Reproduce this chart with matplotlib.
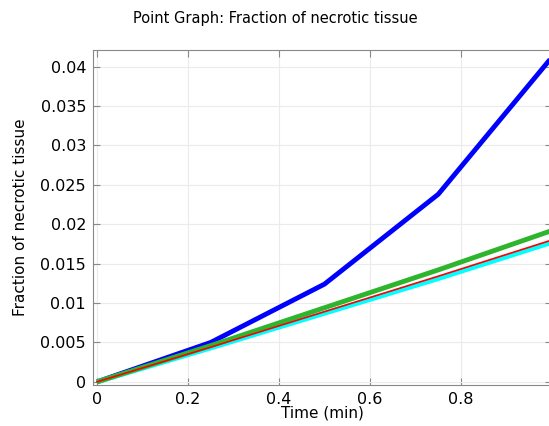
import matplotlib.pyplot as plt
import numpy as np

# Data
# ---------------------------
time = [0.0, 0.25, 0.5, 0.75, 1.0]
blue = [0.0, 0.0050, 0.0124, 0.0238, 0.0412]
green = [0.0, 0.0046, 0.0094, 0.0142, 0.0192]
red = [0.0, 0.0044, 0.0089, 0.0134, 0.0180]
cyan = [0.0, 0.0043, 0.0087, 0.0131, 0.0177]

xticks = [0, 0.2, 0.4, 0.6, 0.8, 1]
xticklabels = ['0', '0.2', '0.4', '0.6', '0.8', '1']
yticks = [0, 0.005, 0.01, 0.015, 0.02, 0.025, 0.03, 0.035, 0.04]
yticklabels = ['0', '0.005', '0.01', '0.015', '0.02', '0.025', '0.03', '0.035', '0.04']

fig = plt.figure(figsize=(5.49, 4.26), dpi=100)
ax = fig.add_axes([93 / 549, 1 - 385 / 426, 459 / 549, 335 / 426])

ax.plot(time, blue, color='#0000ff', lw=3.5, solid_capstyle='butt')
ax.plot(time, cyan, color='#00ffff', lw=3.5, solid_capstyle='butt')
ax.plot(time, green, color='#2db52d', lw=3.5, solid_capstyle='butt')
ax.plot(time, red, color='#ff0000', lw=1.2)

ax.set_xlim(-0.0088, 1.0)
ax.set_ylim(-0.0004, 0.0421)
ax.set_xticks(xticks)
ax.set_xticklabels(xticklabels)
ax.set_yticks(yticks)
ax.set_yticklabels(yticklabels)

ax.grid(True, color='#ebebeb', lw=0.8)
ax.set_axisbelow(True)
for s in ax.spines.values():
    s.set_color('#888888')
ax.tick_params(direction='in', top=True, right=True, length=5, color='#888888',
               labelsize=11.5, pad=5)

ax.set_xlabel('Time (min)', fontsize=11, labelpad=-1)
ax.set_ylabel('Fraction of necrotic tissue', fontsize=11, labelpad=9)
fig.text(275 / 549, 1 - 18 / 426, 'Point Graph: Fraction of necrotic tissue',
         ha='center', va='center', fontsize=10.5)

fig.savefig('out.png', dpi=100)
